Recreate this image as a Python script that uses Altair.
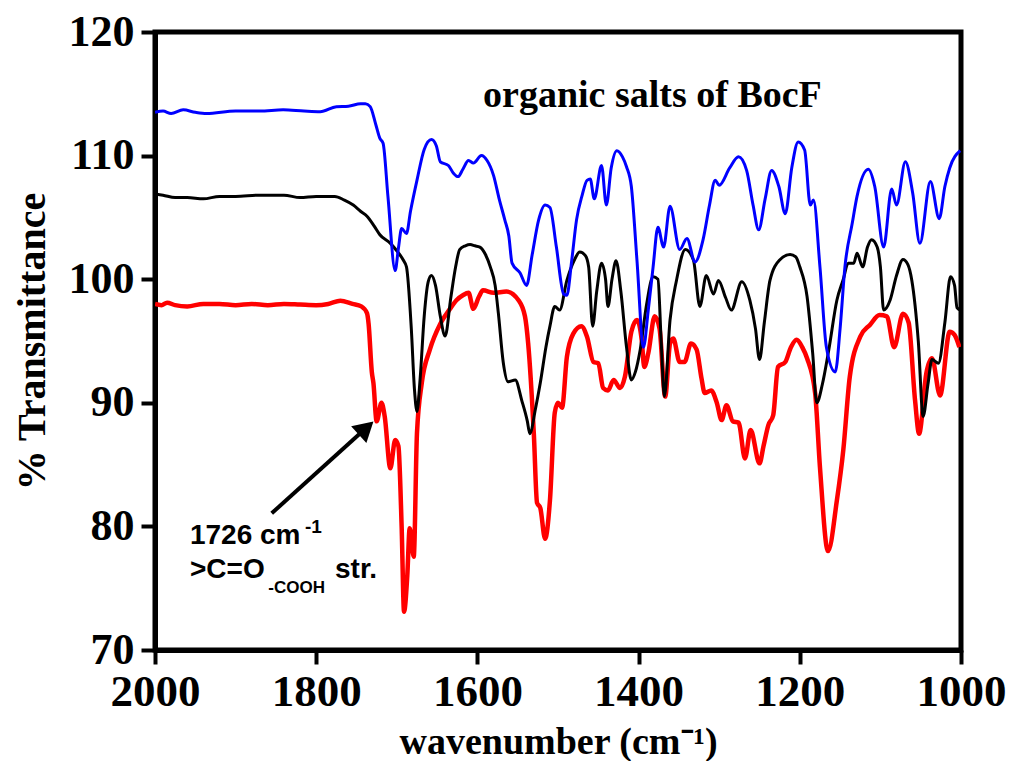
import altair as alt
import pandas as pd

# ---- data ----
blue_x = [2000, 1990, 1980, 1965, 1950, 1936, 1900, 1870, 1841, 1815, 1795, 1775, 1760, 1745, 1739, 1733,
          1726, 1721, 1717, 1711, 1702, 1698, 1694, 1688, 1683, 1675, 1666, 1657, 1651, 1646, 1636, 1630,
          1624, 1618, 1611, 1605, 1595, 1588, 1580, 1573, 1566, 1561, 1557, 1547, 1539, 1532, 1524, 1516,
          1510, 1502, 1493, 1489, 1483, 1477, 1470, 1464, 1460, 1455, 1446, 1440, 1434, 1427, 1420, 1415,
          1409, 1402, 1394, 1388, 1382, 1376, 1369, 1361, 1349, 1340, 1330, 1320, 1312, 1305, 1300, 1287,
          1276, 1266, 1258, 1251, 1243, 1235, 1226, 1218, 1210, 1202, 1194, 1187, 1183, 1175, 1167, 1156,
          1150, 1144, 1135, 1129, 1115, 1107, 1096, 1086, 1080, 1069, 1060, 1051, 1038, 1027, 1020, 1014, 1001]
blue_y = [113.5, 113.6, 113.4, 113.7, 113.5, 113.4, 113.6, 113.6, 113.7, 113.6, 113.55, 113.96, 114.0, 114.2, 114.2, 113.96,
          112.5, 111.4, 111.0, 106.7, 100.7, 102.5, 104.1, 103.7, 105.5, 108.0, 110.5, 111.3, 110.8, 109.5, 109.2, 108.6,
          108.3, 108.9, 109.6, 109.4, 110.0, 109.6, 108.4, 106.5, 104.8, 103.5, 101.3, 100.5, 99.5, 102.0, 104.8, 106.0,
          105.8, 102.6, 98.8, 98.7, 101.5, 104.8, 106.8, 108.0, 108.1, 106.5, 109.2, 106.0, 109.0, 110.4, 109.9, 109.1,
          107.5, 101.5, 94.5, 97.5, 101.0, 104.2, 102.6, 105.9, 102.4, 103.3, 101.4, 103.2, 106.0, 108.0, 107.6, 109.0,
          109.9, 108.8, 106.0, 104.0, 106.5, 108.8, 107.5, 105.3, 109.0, 111.1, 110.45, 106.0, 106.4, 101.0, 94.5, 92.5,
          96.0, 101.0, 104.5, 106.7, 108.9, 107.5, 102.6, 107.3, 106.0, 109.5, 107.0, 102.9, 107.9, 104.9, 107.5, 109.0, 110.4]

black_x = [2000, 1990, 1975, 1960, 1940, 1920, 1900, 1870, 1840, 1820, 1800, 1777, 1765, 1754, 1745, 1737,
           1728, 1721, 1708, 1700, 1692, 1688, 1682, 1678, 1675, 1671, 1666, 1661, 1657, 1652, 1646, 1640,
           1633, 1627, 1622, 1615, 1609, 1603, 1597, 1590, 1584, 1578, 1574, 1568, 1562, 1553, 1545, 1538,
           1535, 1528, 1522, 1515, 1510, 1504, 1498, 1489, 1480, 1473, 1466, 1462, 1457, 1452, 1446, 1441,
           1438, 1433, 1428, 1422, 1415, 1409, 1404, 1398, 1390, 1382, 1376, 1372, 1368, 1361, 1353, 1342,
           1332, 1324, 1316, 1307, 1301, 1292, 1285, 1272, 1262, 1255, 1250, 1244, 1237, 1225, 1212, 1205,
           1200, 1191, 1184, 1179, 1172, 1164, 1154, 1146, 1140, 1133, 1129, 1122, 1116, 1111, 1104, 1100,
           1096, 1088, 1080, 1072, 1066, 1061, 1053, 1047, 1041, 1036, 1028, 1020, 1013, 1008, 1005, 1001]
black_y = [106.9, 106.8, 106.6, 106.6, 106.5, 106.7, 106.7, 106.8, 106.8, 106.6, 106.7, 106.7, 106.4, 106.0, 105.5, 105.1,
           104.3, 103.6, 102.9, 102.3, 101.55, 101.0, 96.0, 91.0, 89.3, 92.0, 97.0, 99.8, 100.3, 99.5, 97.0, 95.4,
           98.5, 101.0, 102.4, 102.7, 102.8, 102.7, 102.6, 102.0, 101.0, 99.5, 97.25, 93.3, 91.7, 91.85, 90.2, 88.5,
           87.5, 89.5, 91.6, 94.5, 96.2, 97.8, 97.5, 99.9, 101.5, 102.2, 101.9, 101.0, 96.2, 99.0, 101.3, 100.0,
           97.8, 100.0, 101.5, 99.0, 94.5, 91.85, 92.5, 94.3, 98.0, 100.2, 100.0, 95.0, 90.5, 96.7, 99.9, 102.4,
           101.55, 97.8, 100.3, 98.8, 99.9, 98.5, 97.5, 99.8, 98.3, 96.0, 93.5, 96.5, 99.9, 101.55, 102.0, 101.8,
           101.0, 98.6, 94.0, 90.0, 91.5, 94.3, 98.3, 100.0, 101.3, 101.3, 102.1, 101.0, 102.6, 103.2, 102.6, 101.0,
           97.5, 98.3, 100.3, 101.6, 101.2, 99.9, 95.0, 88.9, 91.5, 93.5, 93.2, 96.5, 100.2, 99.5, 97.7, 97.5]

red_x = [2000, 1992, 1985, 1975, 1960, 1940, 1920, 1900, 1880, 1860, 1840, 1820, 1800, 1785, 1770, 1755,
         1744, 1737, 1735, 1731, 1729, 1725, 1719, 1715, 1708, 1702, 1698, 1694, 1691, 1687, 1684, 1679,
         1675, 1669, 1659, 1646, 1634, 1626, 1618, 1611, 1605, 1598, 1593, 1580, 1564, 1549, 1541, 1537,
         1530, 1526, 1522, 1516, 1510, 1504, 1500, 1495, 1489, 1481, 1471, 1464, 1456, 1450, 1444, 1438,
         1431, 1423, 1417, 1409, 1402, 1396, 1393, 1388, 1380, 1374, 1367, 1361, 1357, 1349, 1343, 1335,
         1328, 1322, 1318, 1310, 1303, 1297, 1291, 1283, 1276, 1268, 1261, 1250, 1245, 1239, 1233, 1227,
         1218, 1211, 1204, 1197, 1191, 1181, 1175, 1165, 1154, 1146, 1138, 1125, 1113, 1101, 1092, 1083,
         1072, 1065, 1057, 1052, 1043, 1036, 1026, 1014, 1008, 1002]
red_y = [98.0, 97.9, 98.1, 97.9, 97.8, 98.0, 98.0, 97.9, 98.0, 97.9, 98.0, 97.95, 97.9, 98.0, 98.25, 98.0,
         97.8, 97.25, 96.4, 92.5, 91.6, 88.5, 90.0, 88.9, 84.7, 87.0, 86.5, 80.0, 73.1, 76.0, 79.85, 77.55,
         87.5, 91.6, 94.3, 96.4, 97.6, 98.3, 98.7, 98.9, 97.6, 98.6, 99.1, 98.9, 99.0, 98.3, 97.0, 94.8,
         87.5, 81.9, 81.5, 79.0, 82.1, 89.2, 90.0, 89.6, 93.7, 95.6, 96.2, 95.35, 93.3, 93.2, 91.2, 91.0,
         91.85, 91.2, 92.1, 95.75, 96.7, 95.0, 92.9, 94.0, 97.0, 96.0, 90.5, 94.8, 95.2, 93.3, 93.3, 94.8,
         94.3, 92.0, 90.8, 91.0, 90.0, 88.6, 89.8, 88.5, 88.4, 85.5, 87.8, 85.1, 86.5, 88.2, 89.0, 92.9,
         93.3, 94.5, 95.1, 94.5, 93.6, 90.8, 84.8, 78.0, 82.1, 86.2, 92.1, 95.35, 96.3, 97.1, 97.0, 94.5,
         97.2, 96.5, 90.2, 87.5, 92.4, 93.6, 90.6, 95.75, 95.5, 94.5]

x_ticks = [2000, 1800, 1600, 1400, 1200, 1000]
y_ticks = [70, 80, 90, 100, 110, 120]

chart_title = "organic salts of BocF"
title_pos = [1593, 113.9]
x_title = "wavenumber (cm\u207b\u00b9)"
y_title = "% Transmittance"

annot_text = ["1726 cm", ">C=O", "str."]
annot_x = [1956.6, 1956.6, 1776.7]
annot_y = [78.58, 75.8, 75.8]
sup_text = ["-1"]
sup_x = [1813.9]
sup_y = [79.5]
sub_text = ["-COOH"]
sub_x = [1859.4]
sub_y = [74.64]
arrow_tail = [1855.2, 81.06]
arrow_head = [1738.1, 87.96]

# ---- build ----
X = alt.Scale(domain=[2000, 1000], nice=False, zero=False)
Y = alt.Scale(domain=[70, 120], nice=False, zero=False)

serif = "Liberation Serif"
sans = "Liberation Sans"

x_axis = alt.Axis(values=x_ticks, format="d", title=x_title, grid=False,
                  domainColor="black", domainWidth=5, tickColor="black", tickWidth=4, tickSize=14,
                  labelFont=serif, labelFontWeight="bold", labelFontSize=45, labelColor="black",
                  labelPadding=5, labelBaseline="top", labelFlush=False,
                  titleFont=serif, titleFontWeight="bold", titleFontSize=38, titleColor="black",
                  titleBaseline="alphabetic", titleY=103)
y_axis = alt.Axis(values=y_ticks, format="d", title=y_title, grid=False,
                  domainColor="black", domainWidth=5, tickColor="black", tickWidth=4, tickSize=14,
                  labelFont=serif, labelFontWeight="bold", labelFontSize=44, labelColor="black",
                  labelPadding=7, labelBaseline="middle", labelFlush=False,
                  titleFont=serif, titleFontWeight="bold", titleFontSize=40, titleColor="black",
                  titleAngle=270, titleBaseline="alphabetic", titleX=-111, titleY=309)

XE = alt.X("wn:Q", scale=X, axis=x_axis)
YE = alt.Y("T:Q", scale=Y, axis=y_axis)


def series(xs, ys):
    return pd.DataFrame({"wn": xs, "T": ys, "i": list(range(len(xs)))})


layers = []
for xs, ys, col, w in [(red_x, red_y, "#ff0000", 4.5), (black_x, black_y, "#000000", 3),
                       (blue_x, blue_y, "#0000ff", 3)]:
    layers.append(
        alt.Chart(series(xs, ys)).mark_line(color=col, strokeWidth=w, interpolate="monotone",
                                            clip=True, strokeJoin="round").encode(
            x=XE, y=YE, order="i:Q")
    )

title_df = pd.DataFrame({"wn": [title_pos[0]], "T": [title_pos[1]], "t": [chart_title]})
layers.append(alt.Chart(title_df).mark_text(font=serif, fontWeight="bold", fontSize=38, align="left",
                                            baseline="alphabetic", color="black").encode(
    x=XE, y=YE, text="t:N"))

ann_df = pd.DataFrame({"wn": annot_x, "T": annot_y, "t": annot_text})
layers.append(alt.Chart(ann_df).mark_text(font=sans, fontWeight="bold", fontSize=28, align="left",
                                          baseline="alphabetic", color="black").encode(
    x=XE, y=YE, text="t:N"))
sup_df = pd.DataFrame({"wn": sup_x, "T": sup_y, "t": sup_text})
layers.append(alt.Chart(sup_df).mark_text(font=sans, fontWeight="bold", fontSize=19, align="left",
                                          baseline="alphabetic", color="black").encode(
    x=XE, y=YE, text="t:N"))
sub_df = pd.DataFrame({"wn": sub_x, "T": sub_y, "t": sub_text})
layers.append(alt.Chart(sub_df).mark_text(font=sans, fontWeight="bold", fontSize=17, align="left",
                                          baseline="alphabetic", color="black").encode(
    x=XE, y=YE, text="t:N"))

arrow_df = pd.DataFrame({"wn": [arrow_tail[0]], "T": [arrow_tail[1]],
                         "wn2": [arrow_head[0]], "T2": [arrow_head[1]]})
layers.append(alt.Chart(arrow_df).mark_rule(color="black", strokeWidth=4).encode(
    x=XE, y=YE, x2="wn2:Q", y2="T2:Q"))
head_df = pd.DataFrame({"wn": [arrow_head[0]], "T": [arrow_head[1]]})
layers.append(alt.Chart(head_df).mark_point(shape="triangle-up", filled=True, color="black",
                                            size=520, angle=48, opacity=1).encode(
    x=XE, y=YE))

chart = alt.layer(*layers).properties(
    width=806, height=618,
    padding={"left": 147, "top": 24, "right": 46, "bottom": 111},
    autosize=alt.AutoSizeParams(type="none"),
    background="white",
).configure_view(stroke="black", strokeWidth=5)

chart.save("out.html", embed_options={"renderer": "svg", "actions": False})
